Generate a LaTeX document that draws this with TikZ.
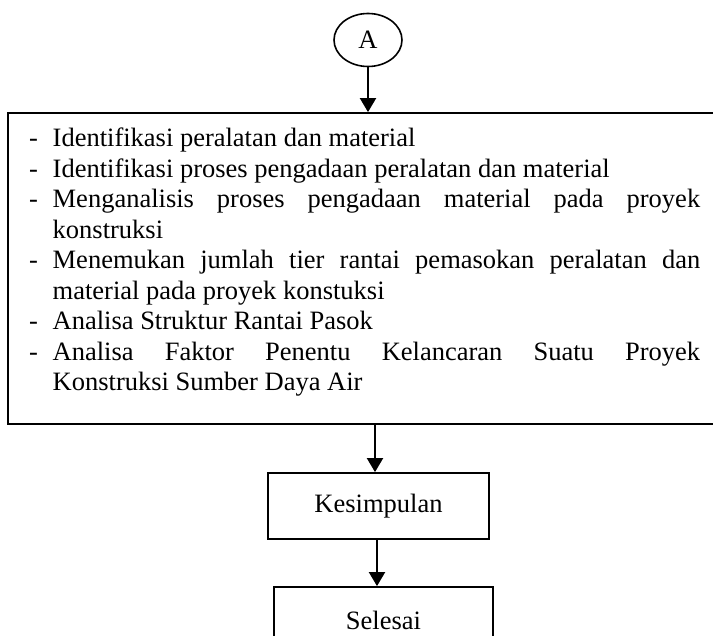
\documentclass[tikz,border=0pt]{standalone}
\usepackage{fontspec}
\setmainfont[Ligatures=CommonOff]{Liberation Serif}
\usetikzlibrary{shapes.geometric,arrows.meta}

% one item of the dashed list, with a hanging indent
\newcommand\dashitem[1]{\noindent\hangindent=23.5pt\hangafter=1\makebox[23.5pt][l]{-}#1\par}

\tikzset{
  flowbox/.style={draw, line width=1.8pt, rectangle, inner sep=0pt},
  flowarrow/.style={line width=2pt, -{Triangle[width=16pt,length=14pt]}},
  connector/.style={draw, ellipse, line width=1.6pt, inner sep=0pt,
    minimum width=68pt, minimum height=53pt},
  bodytext/.style={font=\fontsize{26.5pt}{30.5pt}\selectfont}
}

\begin{document}
\begin{tikzpicture}[x=1pt, y=-1pt]
  \useasboundingbox (0,0) rectangle (713,636);

  % off-page connector
  \node[connector, bodytext] (a) at (368,40) {A};

  % list of analysis steps (right edge runs past the page)
  \node[flowbox, minimum width=708pt, minimum height=311pt] (big) at (362,268.5) {};
  \node[bodytext, anchor=base west, inner sep=0pt, text width=671pt, align=justify]
    (steps) at (29,147) {%
    \hyphenpenalty=10000 \exhyphenpenalty=10000 \tolerance=10000
    \dashitem{Identifikasi peralatan dan material}%
    \dashitem{Identifikasi proses pengadaan peralatan dan material}%
    \dashitem{Menganalisis proses pengadaan material pada proyek\linebreak konstruksi}%
    \dashitem{Menemukan jumlah tier rantai pemasokan peralatan dan\linebreak material pada proyek konstuksi}%
    \dashitem{Analisa Struktur Rantai Pasok}%
    \dashitem{Analisa Faktor Penentu Kelancaran Suatu Proyek\linebreak Konstruksi Sumber Daya Air}%
  };

  % conclusion and end
  \node[flowbox, bodytext, minimum width=221pt, minimum height=66pt] (k) at (378.5,506) {Kesimpulan};
  \node[flowbox, bodytext, minimum width=219pt, minimum height=66pt] (s) at (383.5,620) {Selesai};

  % connectors
  \draw[flowarrow] (a.south) -- (a.south |- big.north);
  \draw[flowarrow] ([xshift=-3.5pt]k.north |- big.south) -- ([xshift=-3.5pt]k.north);
  \draw[flowarrow] ([xshift=-6.5pt]s.north |- k.south) -- ([xshift=-6.5pt]s.north);
\end{tikzpicture}
\end{document}
